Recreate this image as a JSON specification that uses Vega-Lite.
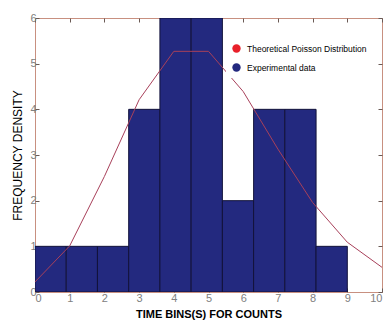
{
  "$schema": "https://vega.github.io/schema/vega-lite/v6.json",
  "width": 347,
  "height": 274,
  "autosize": {"type": "none"},
  "padding": {"left": 35, "top": 18, "right": 2, "bottom": 29},
  "background": "white",
  "config": {
    "view": {"stroke": "#c89080", "strokeWidth": 1},
    "font": "Liberation Sans",
    "axis": {
      "domain": false,
      "grid": false,
      "labelFont": "Liberation Sans",
      "labelColor": "#808080",
      "labelFontSize": 11,
      "tickColor": "#6a5a55",
      "tickSize": -4,
      "titleFont": "Liberation Sans",
      "titleColor": "#000000",
      "titleFontWeight": "normal"
    }
  },
  "datasets": {
    "bars": [
      {"start": 0.0, "end": 0.9, "density": 1, "series": "Experimental data"},
      {"start": 0.9, "end": 1.8, "density": 1, "series": "Experimental data"},
      {"start": 1.8, "end": 2.7, "density": 1, "series": "Experimental data"},
      {"start": 2.7, "end": 3.6, "density": 4, "series": "Experimental data"},
      {"start": 3.6, "end": 4.5, "density": 6, "series": "Experimental data"},
      {"start": 4.5, "end": 5.4, "density": 6, "series": "Experimental data"},
      {"start": 5.4, "end": 6.3, "density": 2, "series": "Experimental data"},
      {"start": 6.3, "end": 7.2, "density": 4, "series": "Experimental data"},
      {"start": 7.2, "end": 8.1, "density": 4, "series": "Experimental data"},
      {"start": 8.1, "end": 9.0, "density": 1, "series": "Experimental data"}
    ],
    "poisson": [
      {"k": 0, "value": 0.22},
      {"k": 1, "value": 1.01},
      {"k": 2, "value": 2.53},
      {"k": 3, "value": 4.21},
      {"k": 4, "value": 5.27},
      {"k": 5, "value": 5.27},
      {"k": 6, "value": 4.39},
      {"k": 7, "value": 3.13},
      {"k": 8, "value": 1.96},
      {"k": 9, "value": 1.09},
      {"k": 10, "value": 0.54}
    ]
  },
  "layer": [
    {
      "data": {"name": "bars"},
      "mark": {"type": "rect", "stroke": "#12123a", "strokeWidth": 1, "clip": true, "opacity": 1},
      "encoding": {
        "x": {
          "field": "start", "type": "quantitative",
          "scale": {"domain": [0, 10], "nice": false, "zero": false},
          "axis": {"orient": "bottom", "values": [0,1,2,3,4,5,6,7,8,9,10], "labelPadding": 4, "title": "TIME BINS(S) FOR COUNTS", "titleFontSize": 11, "titlePadding": 5, "titleFontWeight": "bold"}
        },
        "x2": {"field": "end"},
        "y": {
          "field": "density", "type": "quantitative",
          "scale": {"domain": [0, 6], "nice": false},
          "axis": {"orient": "left", "values": [0,1,2,3,4,5,6], "labelPadding": 3, "title": "FREQUENCY DENSITY", "titleFontSize": 12, "titlePadding": 5}
        },
        "y2": {"datum": 0},
        "color": {
          "field": "series", "type": "nominal",
          "scale": {"domain": ["Theoretical Poisson Distribution", "Experimental data"], "range": ["#e8202a", "#23297f"]},
          "legend": {
            "orient": "none", "legendX": 191, "legendY": 20,
            "title": null, "fillColor": "white", "padding": 6,
            "symbolType": "circle", "symbolSize": 70, "symbolStrokeWidth": 0,
            "labelFontSize": 8.5, "labelColor": "#000000", "labelFont": "Liberation Sans",
            "rowPadding": 10, "labelOffset": 6
          }
        }
      }
    },
    {
      "data": {"name": "poisson"},
      "mark": {"type": "line", "strokeWidth": 1, "color": "#a8405a"},
      "encoding": {
        "x": {"field": "k", "type": "quantitative", "axis": {"orient": "top", "values": [0,1,2,3,4,5,6,7,8,9,10], "labels": false, "title": null}},
        "y": {"field": "value", "type": "quantitative", "axis": {"orient": "right", "values": [0,1,2,3,4,5,6], "labels": false, "title": null}}
      }
    }
  ],
  "resolve": {"axis": {"x": "independent", "y": "independent"}}
}
